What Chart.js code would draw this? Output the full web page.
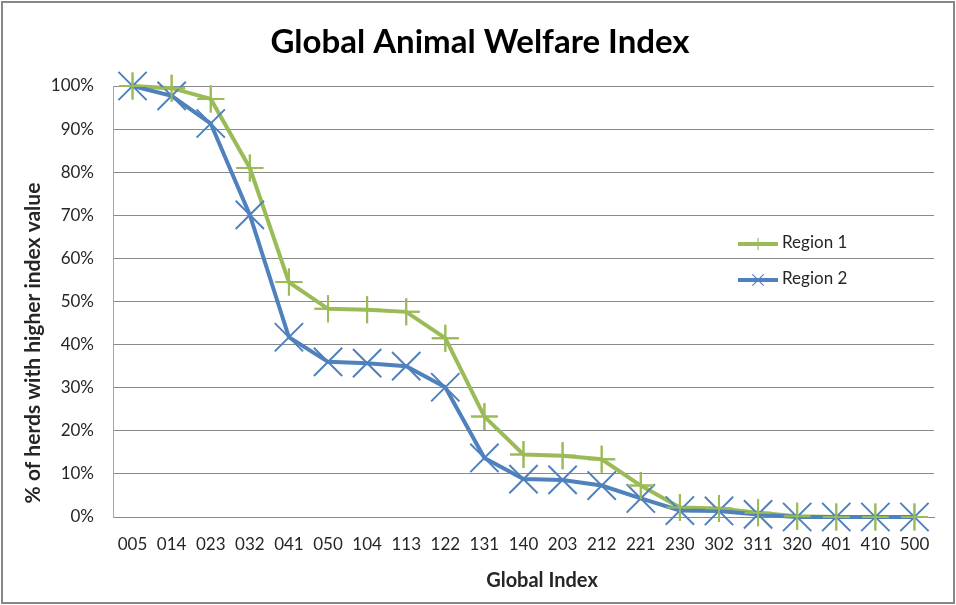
<!DOCTYPE html>
<html>
<head>
<meta charset="utf-8">
<title>Global Animal Welfare Index</title>
<script src="https://cdn.jsdelivr.net/npm/chart.js@4/dist/chart.umd.min.js"></script>
<style>
  html, body { margin: 0; padding: 0; background: #ffffff; }
  #wrap { width: 956px; height: 605px; position: relative; }
</style>
</head>
<body>
<div id="wrap"><canvas id="chart" width="956" height="605"></canvas></div>
<script>
// Index codes along the horizontal axis
const categories = ['005','014','023','032','041','050','104','113','122','131','140',
                    '203','212','221','230','302','311','320','401','410','500'];

// Share of herds (%) with a higher index value
const region1 = [100, 99.5, 97, 81, 54.5, 48.3, 48.1, 47.6, 41.5, 23.3, 14.5,
                 14.2, 13.4, 7.3, 2.2, 2.0, 1.0, 0.2, 0, 0, 0];
const region2 = [100, 97.7, 91.3, 70.1, 41.7, 36.0, 35.7, 35.0, 30.1, 13.7, 8.8,
                 8.6, 7.3, 4.3, 1.5, 1.4, 0.6, 0, 0, 0, 0];

const seriesNames = ['Region 1', 'Region 2'];
const yTicks = [0, 10, 20, 30, 40, 50, 60, 70, 80, 90, 100];

const chartTitle = 'Global Animal Welfare Index';
const xTitle = 'Global Index';
const yTitle = '% of herds with higher index value';

const GREEN = '#9BBB59';
const BLUE = '#4F81BD';
const GRID = '#8a8a8a';
const TEXT = '#262626';
const FONT = 'Lato, "Open Sans", "Liberation Sans", sans-serif';

// Frame, titles and legend drawn around the plot
const decorations = {
  id: 'decorations',
  beforeDraw(chart) {
    const ctx = chart.ctx;
    ctx.save();
    ctx.fillStyle = '#ffffff';
    ctx.fillRect(0, 0, chart.width, chart.height);
    ctx.restore();
  },
  afterDatasetsDraw(chart) {
    // keep the Region 1 markers visible above the Region 2 line
    const ctx = chart.ctx;
    chart.getDatasetMeta(0).data.forEach(p => p.draw(ctx, chart.chartArea));
  },
  afterDraw(chart) {
    const ctx = chart.ctx;
    ctx.save();
    // outer frame
    ctx.strokeStyle = '#878787';
    ctx.lineWidth = 2;
    ctx.strokeRect(2, 2, 952, 601);

    // chart title
    ctx.fillStyle = '#000000';
    ctx.textAlign = 'center';
    ctx.textBaseline = 'middle';
    ctx.font = 'bold 33px ' + FONT;
    ctx.fillText(chartTitle, 480, 42);

    // axis titles
    ctx.fillStyle = TEXT;
    ctx.font = 'bold 20px ' + FONT;
    ctx.fillText(xTitle, 542, 581);
    ctx.save();
    ctx.translate(33, 343);
    ctx.rotate(-Math.PI / 2);
    ctx.font = 'bold 21px ' + FONT;
    ctx.fillText(yTitle, 0, 0);
    ctx.restore();

    // legend: line sample with marker, then the series name
    const rows = [244, 280];
    chart.data.datasets.forEach((ds, i) => {
      const y = rows[i];
      ctx.strokeStyle = ds.borderColor;
      ctx.lineWidth = 4;
      ctx.beginPath();
      ctx.moveTo(738, y);
      ctx.lineTo(778, y);
      ctx.stroke();
      ctx.lineWidth = 1.2;
      Chart.helpers.drawPoint(ctx, {
        pointStyle: ds.pointStyle,
        radius: ds.pointStyle === 'cross' ? 6 : 8,
        rotation: 0,
        borderWidth: 1.2
      }, 758, y);
      ctx.fillStyle = TEXT;
      ctx.textAlign = 'left';
      ctx.textBaseline = 'middle';
      ctx.font = '17px ' + FONT;
      ctx.fillText(ds.label, 782, y - 1);
    });
    ctx.restore();
  }
};

new Chart(document.getElementById('chart'), {
  type: 'line',
  data: {
    labels: categories,
    datasets: [
      {
        label: seriesNames[0],
        data: region1,
        borderColor: GREEN,
        backgroundColor: GREEN,
        borderWidth: 4,
        pointStyle: 'cross',
        pointRadius: 13.5,
        pointBorderWidth: 2,
        pointBorderColor: GREEN,
        tension: 0,
        clip: false,
        order: 2
      },
      {
        label: seriesNames[1],
        data: region2,
        borderColor: BLUE,
        backgroundColor: BLUE,
        borderWidth: 4,
        pointStyle: 'crossRot',
        pointRadius: 20,
        pointBorderWidth: 2,
        pointBorderColor: BLUE,
        tension: 0,
        clip: false,
        order: 1
      }
    ]
  },
  options: {
    responsive: false,
    animation: false,
    devicePixelRatio: 1,
    events: [],
    layout: { padding: { left: 0, top: 86, right: 18, bottom: 0 } },
    plugins: {
      legend: { display: false },
      title: { display: false },
      tooltip: { enabled: false }
    },
    scales: {
      x: {
        type: 'category',
        offset: true,
        grid: { display: false, drawTicks: false },
        border: { display: true, color: GRID, width: 1 },
        ticks: {
          color: TEXT,
          font: { family: FONT, size: 17 },
          padding: 17,
          maxRotation: 0,
          autoSkip: false
        },
        afterFit(scale) { scale.height = 88; }
      },
      y: {
        min: 0,
        max: 100,
        afterBuildTicks(scale) { scale.ticks = yTicks.map(v => ({ value: v })); },
        grid: { color: GRID, lineWidth: 1, drawTicks: false },
        border: { display: true, color: '#a6a6a6', width: 1 },
        ticks: {
          color: TEXT,
          font: { family: FONT, size: 17 },
          padding: 19,
          callback: v => v + '%'
        },
        afterFit(scale) { scale.width = 113; }
      }
    }
  },
  plugins: [decorations]
});
</script>
</body>
</html>
